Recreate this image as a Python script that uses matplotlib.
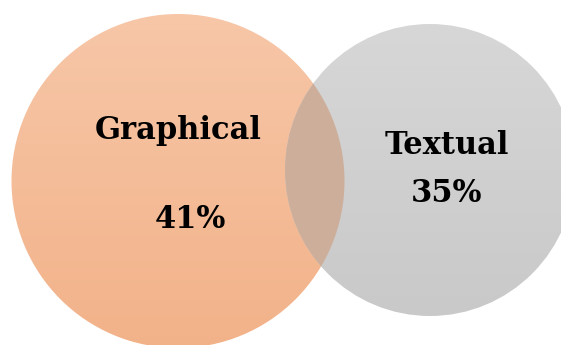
import numpy as np
import matplotlib.pyplot as plt
from matplotlib.patches import Ellipse
from matplotlib.colors import to_rgb

# Venn data
labels = ["Graphical", "Textual"]
shares = [41, 35]

# circle layout in pixel units (x, y, width, height)
circles = [(178, 181, 333, 334), (430, 170, 290, 292)]
top_colors = ["#F7C7A8", "#D7D7D7"]
bottom_colors = ["#F2B289", "#C9C9C9"]
overlap_color = "#CDAE9A"
label_offsets = [(0, -50), (17, -24)]
value_offsets = [(12, 38), (17, 24)]

fig = plt.figure(figsize=(5.61, 3.45), dpi=100)
ax = fig.add_axes([0, 0, 1, 1])
ax.set_xlim(0, 561)
ax.set_ylim(345, 0)
ax.set_aspect("equal")
ax.axis("off")

patches = []
for (cx, cy, w, h), c0, c1 in zip(circles, top_colors, bottom_colors):
    e = Ellipse((cx, cy), w, h, facecolor="none", edgecolor="none")
    ax.add_patch(e)
    patches.append(e)
    # vertical gradient, clipped to the ellipse
    t = np.linspace(0, 1, 256)[:, None]
    grad = (1 - t)[..., None] * np.array(to_rgb(c0)) + t[..., None] * np.array(to_rgb(c1))
    grad = np.repeat(grad, 2, axis=1)
    im = ax.imshow(grad, extent=(cx - w / 2, cx + w / 2, cy + h / 2, cy - h / 2),
                   aspect="auto", interpolation="bilinear")
    im.set_clip_path(e)

# overlap region: first ellipse clipped by the second
cx, cy, w, h = circles[0]
ov = Ellipse((cx, cy), w, h, facecolor=overlap_color, edgecolor="none")
ax.add_patch(ov)
ov.set_clip_path(patches[1])

ax.set_xlim(0, 561)
ax.set_ylim(345, 0)

for (cx, cy, w, h), name, val, lo, vo in zip(circles, labels, shares,
                                             label_offsets, value_offsets):
    ax.text(cx + lo[0], cy + lo[1], name, ha="center", va="center",
            family="DejaVu Serif", weight="bold", fontsize=22, color="black")
    ax.text(cx + vo[0], cy + vo[1], f"{val}%", ha="center", va="center",
            family="DejaVu Serif", weight="bold", fontsize=22, color="black")

fig.savefig("out.png", dpi=100)
